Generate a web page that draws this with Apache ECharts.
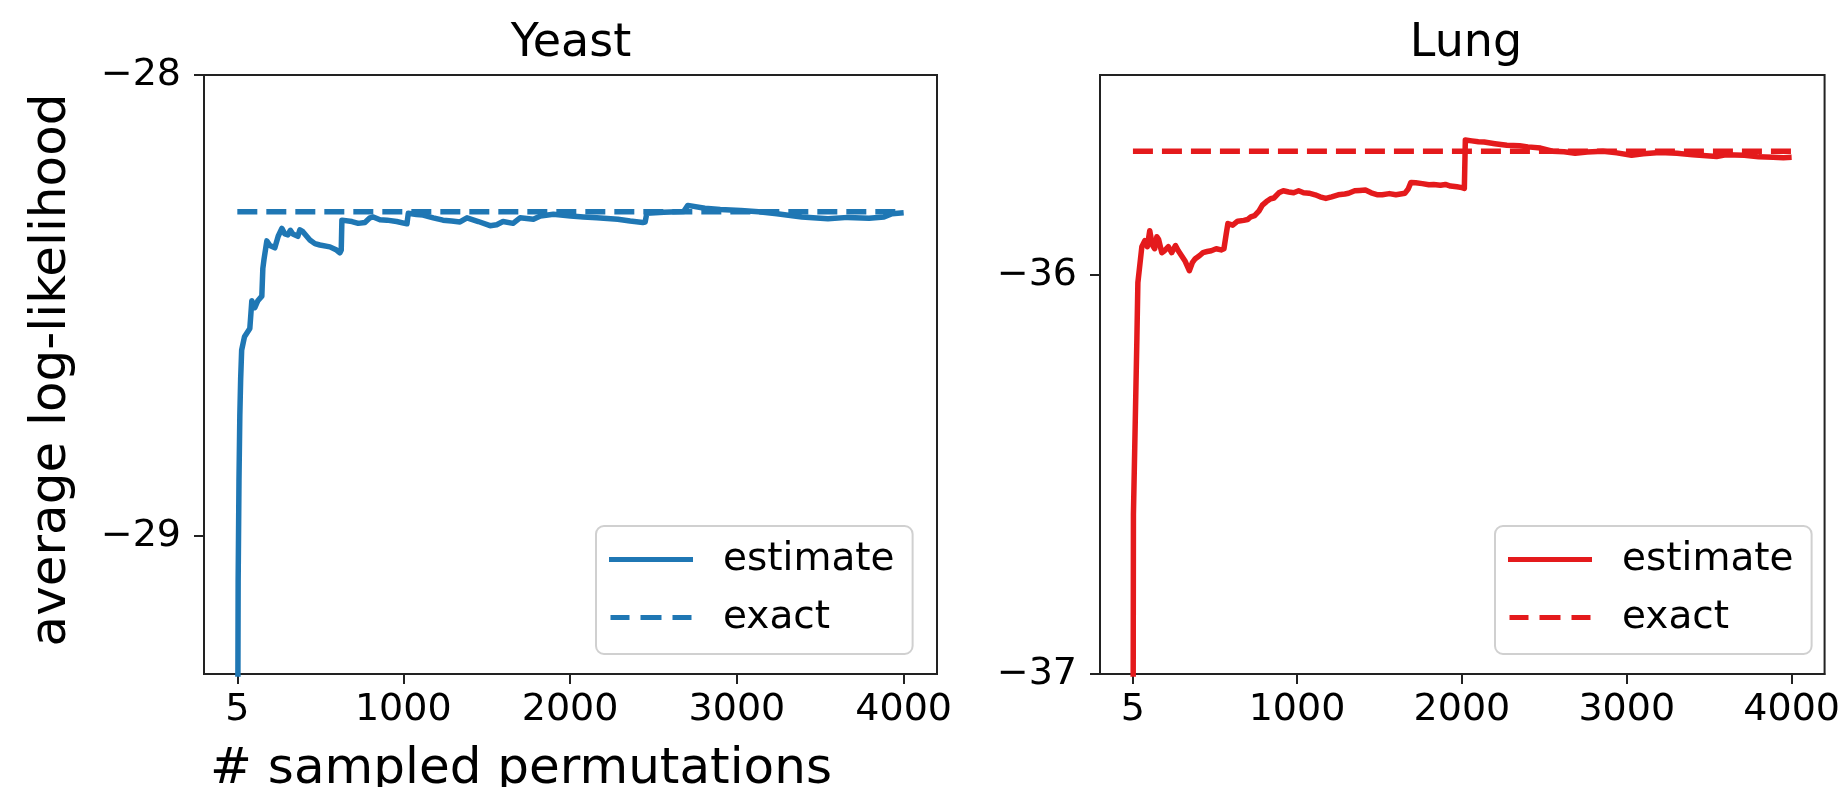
<!DOCTYPE html>
<html>
<head>
<meta charset="utf-8">
<script src="https://cdn.jsdelivr.net/npm/echarts@6/dist/echarts.min.js"></script>
<style>
  html, body { margin: 0; padding: 0; background: #fff; }
  #chart { width: 1843px; height: 787px; }
</style>
</head>
<body>
<div id="chart"></div>
<script>
// tick labels
const xTicks = [5, 1000, 2000, 3000, 4000];
const yeastYTicks = [-29, -28];
const lungYTicks = [-37, -36];

// Yeast: running estimate vs exact value
const yeastX = [5, 10, 15, 20, 25, 31, 48, 80, 86, 92, 110, 128, 152, 158, 165, 182, 200, 230, 250, 272, 290, 308, 323, 338, 368, 380, 398, 440, 470, 500, 560, 600, 620, 628, 632, 692, 730, 770, 800, 820, 860, 902, 960, 1022, 1030, 1040, 1080, 1118, 1180, 1238, 1290, 1340, 1382, 1450, 1520, 1560, 1598, 1658, 1700, 1780, 1822, 1900, 2003, 2080, 2160, 2286, 2360, 2436, 2450, 2460, 2562, 2682, 2706, 2808, 2900, 3024, 3130, 3240, 3390, 3546, 3666, 3792, 3882, 3930, 4000];
const yeastEstimate = [-29.8, -29.1, -28.88, -28.74, -28.66, -28.597, -28.568, -28.55, -28.52, -28.49, -28.505, -28.49, -28.48, -28.42, -28.4, -28.36, -28.37, -28.375, -28.35, -28.333, -28.345, -28.347, -28.337, -28.345, -28.35, -28.336, -28.34, -28.358, -28.366, -28.369, -28.373, -28.38, -28.386, -28.38, -28.315, -28.318, -28.322, -28.32, -28.31, -28.308, -28.314, -28.315, -28.318, -28.323, -28.3, -28.297, -28.303, -28.304, -28.31, -28.315, -28.317, -28.319, -28.31, -28.318, -28.327, -28.325, -28.318, -28.322, -28.31, -28.313, -28.306, -28.302, -28.306, -28.308, -28.31, -28.313, -28.317, -28.32, -28.319, -28.3, -28.298, -28.296, -28.283, -28.289, -28.292, -28.294, -28.297, -28.301, -28.308, -28.312, -28.309, -28.311, -28.308, -28.301, -28.299];
const yeastExact = -28.297;

// Lung: running estimate vs exact value
const lungX = [5, 8, 29, 35, 59, 77, 92, 107, 122, 137, 150, 161, 180, 197, 220, 240, 263, 280, 299, 320, 347, 365, 383, 410, 430, 455, 480, 510, 540, 557, 570, 581, 610, 640, 677, 700, 720, 743, 770, 790, 815, 840, 860, 890, 917, 950, 980, 1010, 1040, 1073, 1110, 1140, 1175, 1210, 1250, 1290, 1313, 1350, 1380, 1415, 1450, 1490, 1517, 1560, 1600, 1655, 1675, 1691, 1720, 1760, 1800, 1829, 1870, 1900, 1931, 1970, 2000, 2015, 2021, 2060, 2100, 2135, 2200, 2273, 2350, 2400, 2477, 2549, 2620, 2687, 2760, 2855, 2940, 3029, 3100, 3200, 3305, 3400, 3545, 3600, 3713, 3800, 3887, 3950, 4000];
const lungEstimate = [-37.5, -36.6, -36.16, -36.02, -35.93, -35.915, -35.93, -35.89, -35.925, -35.935, -35.905, -35.912, -35.945, -35.94, -35.93, -35.945, -35.927, -35.94, -35.952, -35.965, -35.99, -35.97, -35.96, -35.952, -35.945, -35.942, -35.94, -35.935, -35.938, -35.935, -35.9, -35.872, -35.876, -35.866, -35.864, -35.862, -35.855, -35.852, -35.84, -35.826, -35.817, -35.81, -35.808, -35.795, -35.79, -35.793, -35.795, -35.79, -35.795, -35.796, -35.8, -35.805, -35.809, -35.805, -35.8, -35.798, -35.796, -35.79, -35.789, -35.788, -35.795, -35.8, -35.8, -35.797, -35.8, -35.796, -35.785, -35.769, -35.77, -35.772, -35.775, -35.774, -35.776, -35.774, -35.778, -35.78, -35.782, -35.784, -35.663, -35.665, -35.667, -35.668, -35.672, -35.676, -35.677, -35.68, -35.683, -35.691, -35.692, -35.696, -35.693, -35.691, -35.695, -35.701, -35.697, -35.694, -35.696, -35.7, -35.704, -35.7, -35.701, -35.705, -35.706, -35.707, -35.706];
const lungExact = -35.691;

const FONT = 'DejaVu Sans';
const BLUE = '#1f77b4';
const RED = '#e41a1c';
const INK = '#222';

// legend glyphs: a solid bar and a three-dash bar
const SOLID_ICON = 'path://M0,0H84V5H0Z';
const DASH_ICON = 'path://M0,0H19V5H0Z M30,0H51V5H30Z M62,0H81V5H62Z';

function pairs(xs, ys) {
  return xs.map((x, i) => [x, ys[i]]);
}

function minusFmt(v) {
  return v < 0 ? '\u2212' + Math.abs(v) : String(v);
}

function makeX(idx) {
  return {
    gridIndex: idx,
    type: 'value',
    min: -194.75,
    max: 4199.75,
    axisLine: { show: true, onZero: false, lineStyle: { color: INK, width: 2 } },
    axisTick: { show: true, customValues: xTicks, length: 10, lineStyle: { color: INK, width: 2 } },
    axisLabel: {
      customValues: xTicks,
      fontFamily: FONT, fontSize: 38, color: '#000', margin: 17,
      formatter: (v) => String(v)
    },
    splitLine: { show: false }
  };
}

function makeY(idx, min, max, ticks) {
  return {
    gridIndex: idx,
    type: 'value',
    min: min,
    max: max,
    axisLine: { show: true, onZero: false, lineStyle: { color: INK, width: 2 } },
    axisTick: { show: true, customValues: ticks, length: 10, lineStyle: { color: INK, width: 2 } },
    axisLabel: {
      customValues: ticks,
      fontFamily: FONT, fontSize: 38, color: '#000', margin: 23,
      formatter: minusFmt
    },
    splitLine: { show: false }
  };
}

function makeLegend(left, names) {
  return {
    data: [
      { name: names[0], icon: SOLID_ICON },
      { name: names[1], icon: DASH_ICON }
    ],
    orient: 'vertical',
    left: left,
    top: 526,
    padding: [14, 18, 17, 13],
    itemWidth: 84,
    itemHeight: 5,
    itemGap: 19,
    backgroundColor: '#fff',
    borderColor: '#d0d0d0',
    borderWidth: 2,
    borderRadius: 8,
    selectedMode: false,
    formatter: (n) => n.split(' ')[1],
    textStyle: { fontFamily: FONT, fontSize: 39, color: '#000', padding: [0, 0, 0, 25] }
  };
}

function lineSeries(name, idx, data, color, dashed) {
  return {
    name: name,
    type: 'line',
    xAxisIndex: idx,
    yAxisIndex: idx,
    data: data,
    symbol: 'none',
    showSymbol: false,
    clip: true,
    animation: false,
    lineStyle: dashed
      ? { color: color, width: 5.5, type: [20, 9] }
      : { color: color, width: 5.5, join: 'round' },
    itemStyle: { color: color }
  };
}

const chart = echarts.init(document.getElementById('chart'));

chart.setOption({
  backgroundColor: '#fff',
  animation: false,
  grid: [
    { left: 204, top: 75, width: 733, height: 599, show: true, borderColor: INK, borderWidth: 2 },
    { left: 1100, top: 75, width: 733, height: 599, show: true, borderColor: INK, borderWidth: 2 }
  ],
  xAxis: [makeX(0), makeX(1)],
  yAxis: [
    makeY(0, -29.3, -28, yeastYTicks),
    makeY(1, -37, -35.5, lungYTicks)
  ],
  legend: [
    makeLegend(596, ['Yeast estimate', 'Yeast exact']),
    makeLegend(1495, ['Lung estimate', 'Lung exact'])
  ],
  graphic: [
    { type: 'text', x: 571, y: 44, style: { text: 'Yeast', font: '46px "DejaVu Sans"', fill: '#000', align: 'center', verticalAlign: 'middle' } },
    { type: 'text', x: 1466, y: 44, style: { text: 'Lung', font: '46px "DejaVu Sans"', fill: '#000', align: 'center', verticalAlign: 'middle' } },
    { type: 'text', x: 52, y: 370, rotation: Math.PI / 2, style: { text: 'average log-likelihood', font: '50px "DejaVu Sans"', fill: '#000', align: 'center', verticalAlign: 'middle' } },
    { type: 'text', x: 521, y: 770, style: { text: '# sampled permutations', font: '50px "DejaVu Sans"', fill: '#000', align: 'center', verticalAlign: 'middle' } }
  ],
  series: [
    lineSeries('Yeast estimate', 0, pairs(yeastX, yeastEstimate), BLUE, false),
    lineSeries('Yeast exact', 0, [[5, yeastExact], [4000, yeastExact]], BLUE, true),
    lineSeries('Lung estimate', 1, pairs(lungX, lungEstimate), RED, false),
    lineSeries('Lung exact', 1, [[5, lungExact], [4000, lungExact]], RED, true)
  ]
});
</script>
</body>
</html>
